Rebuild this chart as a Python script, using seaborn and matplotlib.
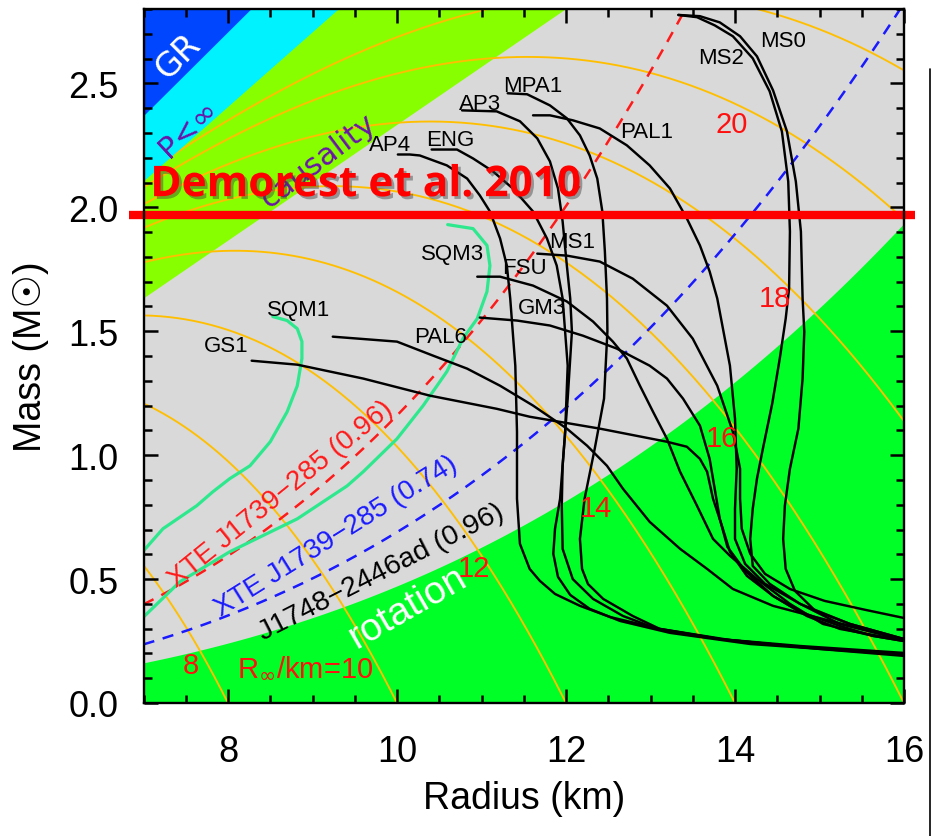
import numpy as np
import matplotlib
matplotlib.use("Agg")
import matplotlib.pyplot as plt
import matplotlib.patheffects as pe
from matplotlib.lines import Line2D
from matplotlib.ticker import MultipleLocator, FormatStrFormatter
import seaborn as sns

# ---------------------------------------------------------------- constants
GM_C2 = 1.4766            # G M_sun / c^2 in km
GR_FACTOR = 2.0           # Schwarzschild: R > 2 GM/c^2
BUCHDAHL_FACTOR = 2.25    # finite central pressure: R > 9/4 GM/c^2
CAUSALITY_FACTOR = 2.9    # causality: R > 2.9 GM/c^2

# spin constraints  M = (k f / 1000 Hz)^2 (R / 10 km)^3
XTE_FREQ = 1122
J1748_FREQ = 716
SPIN_K = {"xte_red": 0.96, "xte_blue": 0.74, "j1748": 0.96}

# contours of constant radiation radius R_inf (km)
R_INF = [8, 10, 12, 14, 16, 18, 20, 22]

DEMOREST_MASS = 1.97

# ---------------------------------------------------------------- EOS curves
AP4_R = [10.01, 10.15, 10.27, 10.59, 10.83, 10.98, 11.10, 11.22, 11.30, 11.34, 11.40, 11.42, 11.42,
         11.455, 11.57, 11.69, 11.87, 12.165, 12.52, 13.11, 13.94, 15.0, 16.0]
AP4_M = [2.213, 2.213, 2.209, 2.169, 2.116, 2.048, 1.983, 1.874, 1.765, 1.632, 1.361, 1.094, 0.824,
         0.642, 0.541, 0.493, 0.44, 0.392, 0.347, 0.299, 0.254, 0.218, 0.19]

ENG_R = [10.41, 10.71, 10.90, 11.135, 11.37, 11.61, 11.775, 11.89, 11.96, 12.02, 11.99, 11.93, 11.87,
         11.85, 11.905, 12.05, 12.28, 12.64, 13.23, 14.18, 15.36, 16.0]
ENG_M = [2.233, 2.233, 2.197, 2.145, 2.076, 1.983, 1.874, 1.765, 1.632, 1.361, 1.094, 0.824, 0.703,
         0.602, 0.509, 0.436, 0.38, 0.331, 0.283, 0.238, 0.21, 0.196]

AP3_R = [10.77, 11.18, 11.455, 11.66, 11.81, 11.905, 11.96, 12.01, 12.05, 12.07, 12.02, 11.96, 11.95,
         11.96, 12.08, 12.32, 12.675, 13.08, 13.82, 14.77, 16.0]
AP3_M = [2.391, 2.387, 2.347, 2.278, 2.185, 2.076, 1.943, 1.765, 1.632, 1.498, 1.228, 0.957, 0.796,
         0.622, 0.50, 0.42, 0.351, 0.299, 0.258, 0.226, 0.198]

MPA1_R = [11.31, 11.54, 11.81, 12.01, 12.165, 12.28, 12.37, 12.43, 12.46, 12.485, 12.49, 12.45, 12.34,
          12.22, 12.165, 12.19, 12.26, 12.44, 12.79, 13.11, 13.82, 14.77, 16.0]
MPA1_M = [2.46, 2.456, 2.411, 2.359, 2.29, 2.209, 2.116, 1.983, 1.822, 1.632, 1.50, 1.228, 1.026,
          0.824, 0.662, 0.541, 0.48, 0.42, 0.351, 0.299, 0.258, 0.23, 0.202]

PAL1_R = [11.61, 11.81, 12.08, 12.40, 12.72, 12.99, 13.23, 13.43, 13.585, 13.70, 13.79, 13.94, 14.0,
          14.02, 14.0, 14.0, 14.12, 14.355, 14.77, 15.36, 16.0]
PAL1_M = [2.371, 2.371, 2.351, 2.318, 2.25, 2.169, 2.076, 1.955, 1.846, 1.741, 1.632, 1.361, 1.147,
          0.945, 0.784, 0.662, 0.561, 0.481, 0.40, 0.319, 0.258]

MS1_R = [11.66, 12.01, 12.40, 12.79, 13.195, 13.50, 13.79, 13.975, 14.06, 14.06, 14.08, 14.18, 14.355,
         14.65, 15.06, 15.54, 16.0]
MS1_M = [1.813, 1.805, 1.781, 1.712, 1.603, 1.47, 1.28, 1.094, 0.945, 0.824, 0.703, 0.602, 0.521,
         0.46, 0.412, 0.376, 0.343]

FSU_R = [10.95, 11.22, 11.61, 12.01, 12.32, 12.555, 12.72, 12.875, 13.03, 13.195, 13.35, 13.55, 13.74,
         13.94, 14.26, 14.65, 15.04, 15.63, 16.0]
FSU_M = [1.72, 1.72, 1.684, 1.62, 1.539, 1.458, 1.39, 1.28, 1.175, 1.066, 0.933, 0.796, 0.662,
         0.594, 0.50, 0.40, 0.319, 0.271, 0.25]

GM3_R = [10.98, 11.42, 11.81, 12.20, 12.60, 12.99, 13.195, 13.385, 13.585, 13.70, 13.76, 13.82, 13.91,
         14.12, 14.45, 14.85, 15.24, 16.0]
GM3_M = [1.555, 1.543, 1.523, 1.482, 1.43, 1.361, 1.309, 1.228, 1.119, 0.985, 0.864, 0.743, 0.63,
         0.533, 0.432, 0.351, 0.299, 0.252]

PAL6_R = [9.24, 10.0, 10.43, 10.83, 11.22, 11.61, 12.01, 12.25, 12.485, 12.675, 12.99, 13.35, 13.67,
          13.975, 14.45, 15.04, 15.63, 16.0]
PAL6_M = [1.478, 1.458, 1.401, 1.349, 1.28, 1.20, 1.107, 1.038, 0.957, 0.864, 0.731, 0.622, 0.541,
          0.46, 0.392, 0.339, 0.288, 0.257]

GS1_R = [8.28, 8.82, 9.60, 10.39, 11.18, 11.57, 12.40, 13.195, 13.43, 13.585, 13.67, 13.74, 13.845,
         13.94, 14.14, 14.45, 14.77, 15.24, 15.63, 16.0]
GS1_M = [1.381, 1.365, 1.309, 1.24, 1.187, 1.155, 1.107, 1.054, 1.034, 0.985, 0.933, 0.824, 0.715,
         0.61, 0.513, 0.432, 0.368, 0.311, 0.271, 0.25]

MS2_R = [13.33, 13.55, 13.76, 13.975, 14.21, 14.41, 14.555, 14.63, 14.65, 14.64, 14.60, 14.53, 14.44,
         14.33, 14.26, 14.21, 14.18, 14.21, 14.41, 14.77, 15.24, 16.0]
MS2_M = [2.776, 2.767, 2.734, 2.69, 2.601, 2.468, 2.306, 2.104, 1.902, 1.672, 1.551, 1.39, 1.207,
         1.026, 0.905, 0.784, 0.662, 0.553, 0.481, 0.40, 0.319, 0.254]

MS0_R = [13.33, 13.585, 13.82, 14.06, 14.26, 14.45, 14.615, 14.72, 14.78, 14.80, 14.82, 14.80, 14.75,
         14.65, 14.59, 14.57, 14.60, 14.71, 14.95, 15.36, 16.0]
MS0_M = [2.776, 2.771, 2.746, 2.69, 2.609, 2.472, 2.306, 2.104, 1.902, 1.632, 1.498, 1.309, 1.107,
         0.945, 0.796, 0.662, 0.541, 0.452, 0.372, 0.319, 0.258]

# strange quark matter stars
SQM1_R = [8.53, 8.70, 8.82, 8.875, 8.875, 8.82, 8.70, 8.50, 8.26, 8.02, 7.82, 7.63, 7.23, 7.0]
SQM1_M = [1.559, 1.543, 1.51, 1.458, 1.39, 1.28, 1.175, 1.054, 0.957, 0.905, 0.852, 0.796, 0.703, 0.614]

SQM3_R = [10.60, 10.90, 11.065, 11.10, 11.065, 10.95, 10.78, 10.59, 10.31, 10.0, 9.60, 9.41, 8.82,
          8.02, 7.43, 7.0]
SQM3_M = [1.93, 1.914, 1.846, 1.765, 1.66, 1.551, 1.47, 1.337, 1.20, 1.066, 0.933, 0.876, 0.743,
          0.61, 0.489, 0.347]

EOS_BLACK = [
    ("AP4", AP4_R, AP4_M, (9.92, 2.254)),
    ("ENG", ENG_R, ENG_M, (10.63, 2.272)),
    ("AP3", AP3_R, AP3_M, (10.98, 2.420)),
    ("MPA1", MPA1_R, MPA1_M, (11.61, 2.490)),
    ("PAL1", PAL1_R, PAL1_M, (12.95, 2.306)),
    ("MS1", MS1_R, MS1_M, (12.07, 1.862)),
    ("FSU", FSU_R, FSU_M, (11.51, 1.757)),
    ("GM3", GM3_R, GM3_M, (11.715, 1.595)),
    ("PAL6", PAL6_R, PAL6_M, (10.51, 1.478)),
    ("GS1", GS1_R, GS1_M, (7.98, 1.442)),
    ("MS2", MS2_R, MS2_M, (13.83, 2.605)),
    ("MS0", MS0_R, MS0_M, (14.57, 2.674)),
]
EOS_SQM = [
    ("SQM1", SQM1_R, SQM1_M, (8.83, 1.587)),
    ("SQM3", SQM3_R, SQM3_M, (10.66, 1.812)),
]

# ---------------------------------------------------------------- style
sns.set_style("ticks")
NARROW = ["Liberation Sans Narrow", "Liberation Sans", "DejaVu Sans"]
plt.rcParams["font.family"] = NARROW
plt.rcParams["axes.linewidth"] = 1.7
for key in ("text.color", "axes.labelcolor", "xtick.color", "ytick.color", "axes.edgecolor"):
    plt.rcParams[key] = "black"

C_GREY = "#d9d9d9"
C_GR = "#0046ff"
C_PINF = "#00f2ff"
C_CAUS = "#88ff00"
C_ROT = "#00ff26"
C_RINF = "#ffbf00"
C_SQM = "#2ee88e"
C_PURPLE = "#6a14a8"

XMIN, XMAX, YMIN, YMAX = 7.0, 16.0, 0.0, 2.8

fig = plt.figure(figsize=(9.33, 8.37), dpi=100)
ax = fig.add_axes([143.5 / 933, 1 - 704 / 837, (904 - 143.5) / 933, (704 - 10) / 837])
ax.set_facecolor(C_GREY)
ax.set_xlim(XMIN, XMAX)
ax.set_ylim(YMIN, YMAX)
ax.set_axisbelow(False)

r_grid = np.linspace(XMIN, XMAX, 500)


def spin_mass(freq, k, r):
    return (k * freq / 1000.0) ** 2 * (r / 10.0) ** 3


# excluded / allowed regions
ax.fill_between(r_grid, 0, spin_mass(J1748_FREQ, SPIN_K["j1748"], r_grid), color=C_ROT, lw=0, zorder=1)
ax.fill_between(r_grid, r_grid / (CAUSALITY_FACTOR * GM_C2), 5, color=C_CAUS, lw=0, zorder=1)

# constant R_inf contours
for rinf in R_INF:
    r = np.linspace(XMIN, min(rinf, XMAX), 300)
    m = r / (2 * GM_C2) * (1 - (r / rinf) ** 2)
    sns.lineplot(x=r, y=m, ax=ax, color=C_RINF, lw=1.35, sort=False, estimator=None, zorder=2)

ax.fill_between(r_grid, r_grid / (BUCHDAHL_FACTOR * GM_C2), 5, color=C_PINF, lw=0, zorder=3)
ax.fill_between(r_grid, r_grid / (GR_FACTOR * GM_C2), 5, color=C_GR, lw=0, zorder=3)

# spin-frequency constraints (dashed)
for key, col in [("xte_red", "#ff1a1a"), ("xte_blue", "#1a1aff")]:
    m = spin_mass(XTE_FREQ, SPIN_K[key], r_grid)
    sns.lineplot(x=r_grid, y=m, ax=ax, color=col, lw=1.8, linestyle=(0, (4.5, 3.5)),
                 sort=False, estimator=None, zorder=4)

# mass-radius curves
for name, rr, mm, _ in EOS_SQM:
    sns.lineplot(x=rr, y=mm, ax=ax, color=C_SQM, lw=2.3, sort=False, estimator=None, zorder=5)
for name, rr, mm, _ in EOS_BLACK:
    sns.lineplot(x=rr, y=mm, ax=ax, color="black", lw=1.75, sort=False, estimator=None, zorder=6)

for name, rr, mm, pos in EOS_BLACK + EOS_SQM:
    ax.text(pos[0], pos[1], name, fontsize=16, color="black", ha="center", va="center", zorder=8)

# R_inf labels
rinf_labels = [(7.56, 0.155, "8"), (8.91, 0.146, r"R$_\infty$/km=10"), (10.91, 0.543, "12"),
               (12.35, 0.785, "14"), (13.85, 1.070, "16"), (14.47, 1.635, "18"), (13.96, 2.335, "20")]
for x, y, s in rinf_labels:
    ax.text(x, y, s, fontsize=21, color="#ff1010", ha="center", va="center", zorder=8)

# rotated region / constraint labels
ax.text(8.62, 0.845, "XTE J1739\u2212285 (0.96)", color="#ff1a1a", fontsize=20, rotation=39,
        rotation_mode="anchor", ha="center", va="center", zorder=8)
ax.text(9.28, 0.675, "XTE J1739\u2212285 (0.74)", color="#1a1aff", fontsize=20, rotation=32,
        rotation_mode="anchor", ha="center", va="center", zorder=8)
ax.text(9.81, 0.529, "J1748\u22122446ad (0.96)", color="black", fontsize=20.5, rotation=27,
        rotation_mode="anchor", ha="center", va="center", zorder=8)
ax.text(10.13, 0.388, "rotation", color="white", fontsize=28, rotation=30,
        rotation_mode="anchor", ha="center", va="center", zorder=8)
ax.text(9.07, 2.19, "causality", color=C_PURPLE, fontsize=22, rotation=37,
        rotation_mode="anchor", ha="center", va="center", zorder=8, family=["DejaVu Sans"])
ax.text(7.53, 2.318, "P<\u221e", color=C_PURPLE, fontsize=22, rotation=43,
        rotation_mode="anchor", ha="center", va="center", zorder=8, family=["DejaVu Sans"])
ax.text(7.41, 2.61, "GR", color="white", fontsize=24, rotation=45,
        rotation_mode="anchor", ha="center", va="center", zorder=8, family=["DejaVu Sans"])

# Demorest et al. 2010 two-solar-mass pulsar
ax.plot([6.83, 16.13], [DEMOREST_MASS, DEMOREST_MASS], color="#ff0000", lw=6, clip_on=False,
        solid_capstyle="butt", zorder=9)
ax.text(7.08, 2.045, "Demorest et al. 2010", color="#ff0000", fontsize=30.5, fontweight="bold",
        family=["Open Sans", "DejaVu Sans"], ha="left", va="baseline", zorder=9,
        path_effects=[pe.SimplePatchShadow(offset=(2, -2), shadow_rgbFace="0.25", alpha=0.45),
                      pe.Normal()])

# axes cosmetics
ax.xaxis.set_major_locator(MultipleLocator(2))
ax.xaxis.set_minor_locator(MultipleLocator(0.5))
ax.yaxis.set_major_locator(MultipleLocator(0.5))
ax.yaxis.set_minor_locator(MultipleLocator(0.1))
ax.yaxis.set_major_formatter(FormatStrFormatter("%.1f"))
ax.tick_params(which="both", direction="in", top=True, right=True, color="black", width=1.8,
               labelsize=26, labelcolor="black")
ax.tick_params(which="major", length=10)
ax.tick_params(which="minor", length=6)
ax.tick_params(axis="y", pad=18)
ax.tick_params(axis="x", pad=22)
ax.xaxis.set_zorder(12)
ax.yaxis.set_zorder(12)
for sp in ax.spines.values():
    sp.set_zorder(12)
    sp.set_color("black")

ax.set_xlabel("Radius (km)", fontsize=27, labelpad=8, color="black")
ax.set_ylabel("Mass (M\u2609)", fontsize=27, labelpad=14, color="black")

# thin frame edge on the right of the canvas
fig.add_artist(Line2D([930 / 933, 930 / 933], [0, 1 - 70 / 837], transform=fig.transFigure,
                      color="black", lw=1.2))

fig.savefig("out.png", dpi=100, facecolor="white")
